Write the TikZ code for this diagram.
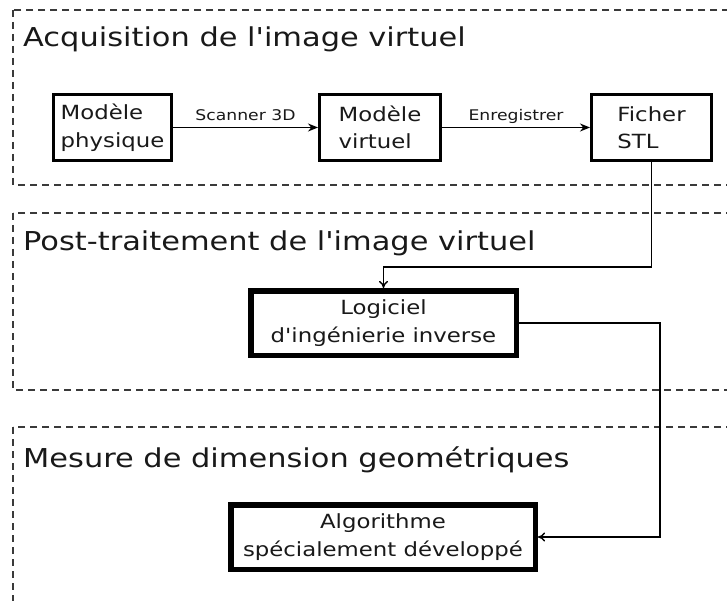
\documentclass[tikz,border=0pt]{standalone}
\usepackage{fontspec}
\setmainfont[FakeStretch=1.17, Ligatures=TeXOff]{DejaVu Sans}
\usetikzlibrary{arrows.meta}
\definecolor{frame-gray}{HTML}{3A3A3A}

\begin{document}
\begin{tikzpicture}[x=1pt, y=-1pt,
      every node/.style={inner sep=0pt, text=black!90},
      section/.style={draw=frame-gray, line width=1.1pt, dash pattern=on 7pt off 5pt},
      title/.style={anchor=base west, font=\fontsize{26}{30}\selectfont},
      stepbox/.style={draw, line width=3pt, minimum height=66pt, align=left,
                      font=\fontsize{19.5}{27.5}\selectfont},
      toolbox/.style={draw, line width=5.5pt, minimum height=64.5pt, align=center,
                      font=\fontsize{19.5}{28}\selectfont},
      flow/.style={-{Stealth[length=10pt,width=8pt]}, line width=1.8pt},
      link/.style={-{Computer Modern Rightarrow[length=7pt,width=9pt]}, line width=1.4pt},
      lbl/.style={font=\fontsize{14.7}{17}\selectfont, anchor=base, yshift=7pt}]
    \clip (0,0) rectangle (727,601);
    \fill[white] (0,0) rectangle (727,601);
    \foreach \top/\bot in {10/185, 213/390, 427/640} {
      \draw[section] (13,\top) rectangle (760,\bot);
    }
    \node[title] (acq) at (23,47) {Acquisition de l'image virtuel};
    \node[title] (post) at (23,251) {Post-traitement de l'image virtuel};
    \node[title] (mes) at (23,467) {Mesure de dimension geométriques};

    \node[stepbox, minimum width=118pt] (phys) at (112.5,127.5) {Modèle\\physique};
    \node[stepbox, minimum width=121pt] (virt) at (380,127.5) {Modèle\\virtuel};
    \node[stepbox, minimum width=120pt] (stl) at (651.5,127.5) {Ficher\\STL};
    \node[toolbox, minimum width=265.5pt] (logi) at (383.5,323) {Logiciel\\d'ingénierie inverse};
    \node[toolbox, minimum width=304.5pt] (algo) at (383,537) {Algorithme\\spécialement développé};

    \draw[flow] (phys) -- node[lbl] {Scanner 3D} (virt);
    \draw[flow] (virt) -- node[lbl] {Enregistrer} (stl);
    \draw[link] (stl) -- (stl |- 0,267) -| (logi);
    \draw[link] (logi) -- (logi -| 660,0) |- (algo);
  \end{tikzpicture}
\end{document}
